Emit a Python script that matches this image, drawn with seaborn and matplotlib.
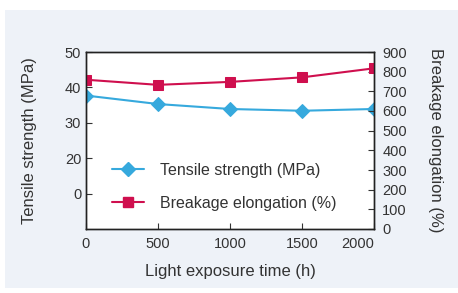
import numpy as np
import pandas as pd
import matplotlib.pyplot as plt
import seaborn as sns
from matplotlib.patches import Rectangle
from matplotlib.lines import Line2D

# data
hours = [0, 500, 1000, 1500, 2000]
tensile = [37.7, 35.3, 33.9, 33.4, 33.9]          # MPa (left axis)
elongation = [759, 733, 748, 771, 817]            # % (right axis)

left_ticks = [10, 20, 30, 40, 50]
left_labels = ["0", "20", "30", "40", "50"]      # as printed in the original
right_ticks = [0, 100, 200, 300, 400, 500, 600, 700, 800, 900]
x_ticks = [0, 500, 1000, 1500, 2000]

blue = "#36a9dd"
red = "#cf0f4e"
txt = "#333333"

sns.set_style("ticks")
plt.rcParams['font.family'] = ['Liberation Sans', 'DejaVu Sans']

df = pd.DataFrame({"hours": hours, "tensile": tensile, "elongation": elongation})

fig = plt.figure(figsize=(4.58, 2.93), dpi=100)
fig.patches.append(Rectangle((5 / 458, 5 / 293), 1, 278 / 293, transform=fig.transFigure,
                             facecolor="#eef2f8", edgecolor="none", zorder=-10))

ax = fig.add_axes([86 / 458, 64 / 293, 288 / 458, 177 / 293])
ax2 = ax.twinx()

sns.lineplot(data=df, x="hours", y="tensile", ax=ax, color=blue, marker="D",
             markersize=7, markeredgecolor=blue, linewidth=1.5)
sns.lineplot(data=df, x="hours", y="elongation", ax=ax2, color=red, marker="s",
             markersize=7.5, markeredgecolor=red, linewidth=1.5)

ax.set_xlim(0, 2000)
ax.set_ylim(0, 50)
ax.set_yticks(left_ticks)
ax.set_yticklabels(left_labels)
ax.set_xticks(x_ticks)
ax2.set_ylim(0, 900)
ax2.set_yticks(right_ticks)

for a in (ax, ax2):
    a.tick_params(direction="in", length=4, width=0.8, labelsize=10.5, colors=txt,
                  labelcolor=txt)
    for s in a.spines.values():
        s.set_visible(True)
        s.set_color("#222222")
        s.set_linewidth(1)
ax.tick_params(axis="x", pad=6)
ax2.tick_params(axis="y", pad=6)
ax.get_xticklabels()[-1].set_horizontalalignment("right")
ax.set_facecolor("white")

ax.set_xlabel("Light exposure time (h)", fontsize=12, color=txt, labelpad=9)
ax.set_ylabel("Tensile strength (MPa)", fontsize=12, color=txt, labelpad=20)
ax2.set_ylabel("Breakage elongation (%)", fontsize=12, color=txt, rotation=270,
               labelpad=26)

handles = [Line2D([], [], color=blue, marker="D", markersize=7, linewidth=1.5),
           Line2D([], [], color=red, marker="s", markersize=7.5, linewidth=1.5)]
ax.legend(handles, ["Tensile strength (MPa)", "Breakage elongation (%)"],
          loc="lower left", bbox_to_anchor=(0.04, 0.02), frameon=False, fontsize=11.5,
          handlelength=2.0, handletextpad=1.0, labelspacing=1.15, labelcolor=txt)

fig.savefig("out.png", dpi=100)
